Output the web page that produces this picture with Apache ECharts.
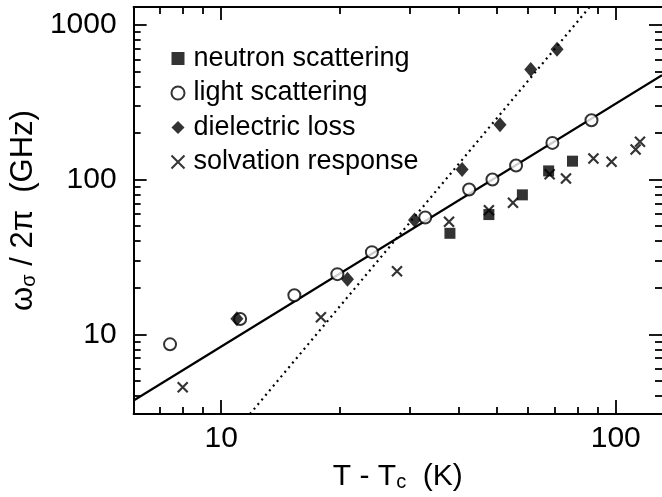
<!DOCTYPE html>
<html>
<head>
<meta charset="utf-8">
<script src="https://cdn.jsdelivr.net/npm/echarts@6/dist/echarts.min.js"></script>
<style>html,body{margin:0;padding:0;background:#fff;}#c{width:662px;height:497px;}</style>
</head>
<body>
<div id="c"></div>
<script>
// ---- axis ranges ----
const xMin = 6, xMax = 131;
const yMin = 3.05, yMax = 1310;
const xMajorTicks = [10, 100];
const xMinorTicks = [7, 8, 9, 20, 30, 40, 50, 60, 70, 80, 90];
const yMajorTicks = [10, 100, 1000];
const yMinorTicks = [4, 5, 6, 7, 8, 9, 20, 30, 40, 50, 60, 70, 80, 90, 200, 300, 400, 500, 600, 700, 800, 900];

// ---- data ----
const neutronX = [38.0, 47.7, 58.0, 67.6, 77.7];
const neutronY = [45.0, 59.5, 79.8, 114, 131.8];
const lightX = [7.42, 11.17, 15.33, 19.7, 24.1, 32.9, 42.5, 48.7, 55.9, 69.1, 86.8];
const lightY = [8.61, 12.57, 17.9, 24.5, 34.0, 57.0, 86.5, 100.4, 123.7, 173, 242.7];
const dielectricX = [10.96, 20.9, 30.9, 40.8, 50.9, 60.9, 71.0];
const dielectricY = [12.6, 22.7, 54.8, 116.6, 226.5, 516, 698];
const solvationX = [7.99, 17.9, 27.9, 37.8, 47.7, 54.9, 68.0, 74.8, 87.8, 97.6, 112.3, 115.2];
const solvationY = [4.54, 12.9, 25.6, 53.5, 63.5, 70.9, 108.6, 101.9, 137.3, 130.6, 157, 176];
// fit lines (end points)
const solidFitX = [6, 131];
const solidFitY = [3.73, 474];
const dottedFitX = [11.83, 85.9];
const dottedFitY = [3.05, 1310];

const seriesNames = ['neutron scattering', 'light scattering', 'dielectric loss', 'solvation response'];

function pairs(xs, ys) { return xs.map((x, i) => [x, ys[i]]); }
const lg = v => Math.log10(v);

const FONT = 'Liberation Sans, Arial, Helvetica, sans-serif';
const crossPath = 'path://M0,0L10,10M10,0L0,10';
const AXLINE = { color: '#000', width: 2 };
const TICKSTYLE = { color: '#000', width: 1.8 };

// decorative tick axes (linear in log10 space, same pixel mapping as the log axes)
function tickAxis(dim, pos, ticks, len, showLine) {
  const lo = dim === 'x' ? lg(xMin) : lg(yMin);
  const hi = dim === 'x' ? lg(xMax) : lg(yMax);
  return {
    type: 'value', min: lo, max: hi, position: pos, gridIndex: 0,
    axisLine: { show: showLine, lineStyle: AXLINE },
    axisTick: { show: true, inside: true, length: len, customValues: ticks.map(lg), lineStyle: TICKSTYLE },
    axisLabel: { show: false }, splitLine: { show: false }, minorTick: { show: false }
  };
}
const labelFmt = v => String(Math.round(v));

const chart = echarts.init(document.getElementById('c'), null, { renderer: 'canvas' });
chart.setOption({
  backgroundColor: '#fff',
  animation: false,
  grid: { left: 129, right: 0, top: 7, bottom: 83, containLabel: false },
  xAxis: [
    {
      type: 'log', logBase: 10, min: xMin, max: xMax, position: 'bottom', gridIndex: 0,
      axisLine: { show: true, lineStyle: AXLINE },
      axisTick: { show: false },
      axisLabel: { show: true, customValues: xMajorTicks, formatter: labelFmt, fontSize: 30, fontFamily: FONT, color: '#000', margin: 10 },
      splitLine: { show: false }, minorTick: { show: false },
      name: '{n|T - T}{s|c}{n|  (K)}', nameLocation: 'middle', nameGap: 48,
      nameTextStyle: { fontFamily: FONT, color: '#000', rich: {
        n: { fontSize: 30, fontFamily: FONT, color: '#000' },
        s: { fontSize: 20, fontFamily: FONT, color: '#000', verticalAlign: 'bottom', padding: [10, 0, 0, 0] } } }
    },
    tickAxis('x', 'bottom', xMajorTicks, 14, false),
    tickAxis('x', 'bottom', xMinorTicks, 7, false),
    tickAxis('x', 'top', xMajorTicks, 13, true),
    tickAxis('x', 'top', xMinorTicks, 7, false)
  ],
  yAxis: [
    {
      type: 'log', logBase: 10, min: yMin, max: yMax, position: 'left', gridIndex: 0,
      axisLine: { show: true, lineStyle: AXLINE },
      axisTick: { show: false },
      axisLabel: { show: true, customValues: yMajorTicks, formatter: labelFmt, fontSize: 30, fontFamily: FONT, color: '#000', margin: 17 },
      splitLine: { show: false }, minorTick: { show: false },
      name: '{n|ω}{s|σ}{n| / 2π  (GHz)}', nameLocation: 'middle', nameGap: 89,
      nameTextStyle: { fontFamily: FONT, color: '#000', rich: {
        n: { fontSize: 31, fontFamily: FONT, color: '#000' },
        s: { fontSize: 20, fontFamily: FONT, color: '#000', verticalAlign: 'bottom', padding: [10, 0, 0, 0] } } }
    },
    tickAxis('y', 'left', yMajorTicks, 13, false),
    tickAxis('y', 'left', yMinorTicks, 7, false),
    tickAxis('y', 'right', yMajorTicks, 13, false),
    tickAxis('y', 'right', yMinorTicks, 7, false)
  ],
  legend: {
    data: seriesNames, orient: 'vertical', left: 164, top: 40,
    itemWidth: 13, itemHeight: 13, itemGap: 7.5,
    textStyle: { fontSize: 27, fontFamily: FONT, color: '#000', padding: [0, 0, 0, 4] },
    selectedMode: false
  },
  series: [
    { name: 'neutron scattering', type: 'scatter', xAxisIndex: 0, yAxisIndex: 0, data: pairs(neutronX, neutronY),
      symbol: 'rect', symbolSize: 11, itemStyle: { color: '#000' }, z: 5 },
    { name: 'light scattering', type: 'scatter', xAxisIndex: 0, yAxisIndex: 0, data: pairs(lightX, lightY),
      symbol: 'circle', symbolSize: 12, itemStyle: { color: '#fff', borderColor: '#000', borderWidth: 2 }, z: 4 },
    { name: 'dielectric loss', type: 'scatter', xAxisIndex: 0, yAxisIndex: 0, data: pairs(dielectricX, dielectricY),
      symbol: 'diamond', symbolSize: [13, 15], itemStyle: { color: '#000' }, z: 6 },
    { name: 'solvation response', type: 'scatter', xAxisIndex: 0, yAxisIndex: 0, data: pairs(solvationX, solvationY),
      symbol: crossPath, symbolSize: 10, itemStyle: { color: 'none', borderColor: '#000', borderWidth: 2.2 }, z: 6 },
    { name: 'fit', type: 'line', xAxisIndex: 0, yAxisIndex: 0, data: pairs(solidFitX, solidFitY),
      symbol: 'none', lineStyle: { color: '#000', width: 2.2 }, z: 3, silent: true },
    { name: 'fit2', type: 'line', xAxisIndex: 0, yAxisIndex: 0, data: pairs(dottedFitX, dottedFitY),
      symbol: 'none', lineStyle: { color: '#000', width: 2.2, type: [2, 4] }, z: 3, silent: true }
  ]
});
</script>
</body>
</html>
